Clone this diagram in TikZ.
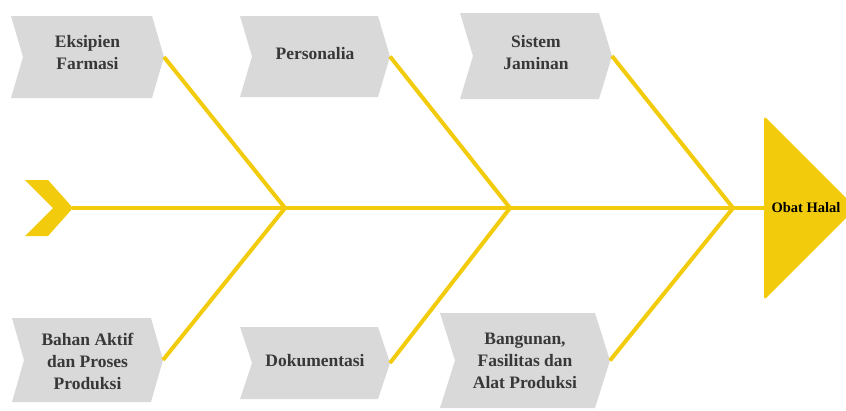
\documentclass[tikz,border=0pt]{standalone}
\usepackage{fontspec}
\setmainfont{Liberation Serif}
\definecolor{bone}{HTML}{F2CC0C}
\definecolor{boxgray}{HTML}{D9D9D9}
\definecolor{txt}{HTML}{383838}
\tikzset{
  chevbox/.style={fill=boxgray, draw=none},
  bonel/.style={draw=bone, line width=4pt},
  lbl/.style={font=\fontsize{17.5}{22}\selectfont\bfseries, text=txt, align=center, inner sep=0pt},
  headlbl/.style={font=\fontsize{14.5}{16}\selectfont\bfseries, text=black, inner sep=0pt}
}
\newcommand{\chev}[8]{%
  % #1 x1, #2 x2, #3 depth, #4 ytop, #5 ybot, #6 name, #7 text, #8 text y-offset
  \fill[chevbox] (#1,#4) -- (#2,#4) -- ({#2+#3},{(#4+#5)/2}) -- (#2,#5) -- (#1,#5) -- ({#1+#3},{(#4+#5)/2}) -- cycle;
  \coordinate (#6) at ({#2+#3},{(#4+#5)/2});
  \node[lbl] (#6t) at ({(#1+#2+#3)/2},{(#4+#5)/2+#8}) {#7};
}
\begin{document}
\begin{tikzpicture}[x=1pt,y=-1pt]
\useasboundingbox (0,0) rectangle (846,410);
% head
\fill[bone, rounded corners=3pt] (764,116) -- (856,208) -- (764,300) -- cycle;
\coordinate (head) at (764,208);
\node[headlbl] (headt) at (806,208) {Obat Halal};
% tail
\fill[bone] (25,180) -- (48,180) -- (73,208) -- (48,236) -- (25,236) -- (53,208) -- cycle;
\coordinate (tail) at (72,208);
% junctions
\coordinate (j1) at (285,208);
\coordinate (j2) at (510,208);
\coordinate (j3) at (733,208);
% chevrons
\chev{11}{152}{12}{16}{98}{c1}{Eksipien\\Farmasi}{-4}
\chev{240}{378}{12}{16}{97}{c2}{Personalia}{-3}
\chev{460}{599}{13}{13}{99}{c3}{Sistem\\Jaminan}{-3}
\chev{12}{151}{12}{318}{402}{c4}{Bahan Aktif\\dan Proses\\Produksi}{1}
\chev{240}{378}{12}{327}{399}{c5}{Dokumentasi}{-2}
\chev{440}{595}{15}{313}{408}{c6}{Bangunan,\\Fasilitas dan\\Alat Produksi}{0}
% spine and bones
\draw[bonel] (tail) -- (head);
\draw[bonel] (c1) -- (j1);
\draw[bonel] (c4) -- (j1);
\draw[bonel] (c2) -- (j2);
\draw[bonel] (c5) -- (j2);
\draw[bonel] (c3) -- (j3);
\draw[bonel] (c6) -- (j3);
\end{tikzpicture}
\end{document}
